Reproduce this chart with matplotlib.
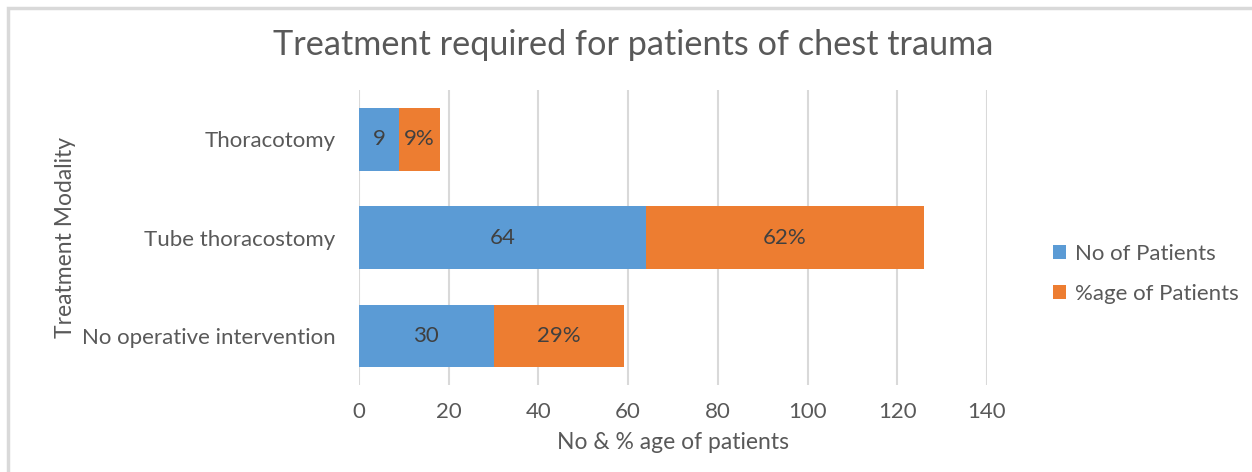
import matplotlib.pyplot as plt
from matplotlib.patches import Rectangle
import numpy as np

# data (bottom to top)
categories = ["No operative intervention", "Tube thoracostomy", "Thoracotomy"]
no_patients = [30, 64, 9]
pct_patients = [29, 62, 9]
pct_labels = ["29%", "62%", "9%"]

blue = "#5B9BD5"
orange = "#ED7D31"
grey_txt = "#595959"

plt.rcParams['font.family'] = ['Lato', 'DejaVu Sans']

fig = plt.figure(figsize=(12.52, 4.72), dpi=100)
ax = fig.add_axes([0.2867, 0.184, 0.5016, 0.625])

# chart frame (left and top edges visible in the reference)
fig.patches.append(Rectangle((0.0065, -0.1), 1.2, 1.083, transform=fig.transFigure,
                             fill=False, edgecolor="#d9d9d9", linewidth=2.5))

y = np.arange(len(categories))
b1 = ax.barh(y, no_patients, height=0.64, color=blue, label="No of Patients", zorder=3)
b2 = ax.barh(y, pct_patients, left=no_patients, height=0.64, color=orange,
             label="%age of Patients", zorder=3)

for i in range(len(categories)):
    ax.text(no_patients[i] / 2, y[i], str(no_patients[i]), ha="center", va="center",
            fontsize=16, color="#404040", zorder=4)
    ax.text(no_patients[i] + pct_patients[i] / 2, y[i], pct_labels[i], ha="center",
            va="center", fontsize=16, color="#404040", zorder=4)

ax.set_xlim(0, 140)
ax.set_ylim(-0.5, 2.5)
ax.set_xticks(range(0, 141, 20))
ax.set_yticks(y)
ax.set_yticklabels(categories)
ax.grid(axis="x", color="#d9d9d9", linewidth=1.5, zorder=0)
for s in ax.spines.values():
    s.set_visible(False)
ax.tick_params(axis="both", length=0, labelsize=16, colors=grey_txt)
ax.tick_params(axis="x", pad=12)
ax.tick_params(axis="y", pad=17)

ax.set_xlabel("No & % age of patients", fontsize=16.5, color=grey_txt, labelpad=7)
ax.set_ylabel("Treatment Modality", fontsize=16.5, color=grey_txt, labelpad=4)

fig.text(0.506, 0.905, "Treatment required for patients of chest trauma", ha="center",
         va="center", fontsize=24.7, color=grey_txt)

leg = fig.legend(handles=[b1, b2], loc="center left", bbox_to_anchor=(0.825, 0.42),
                 frameon=False, fontsize=16, handlelength=0.6, handleheight=0.6,
                 labelspacing=0.9, handletextpad=0.4)
for t in leg.get_texts():
    t.set_color(grey_txt)

fig.savefig("out.png", dpi=100)
